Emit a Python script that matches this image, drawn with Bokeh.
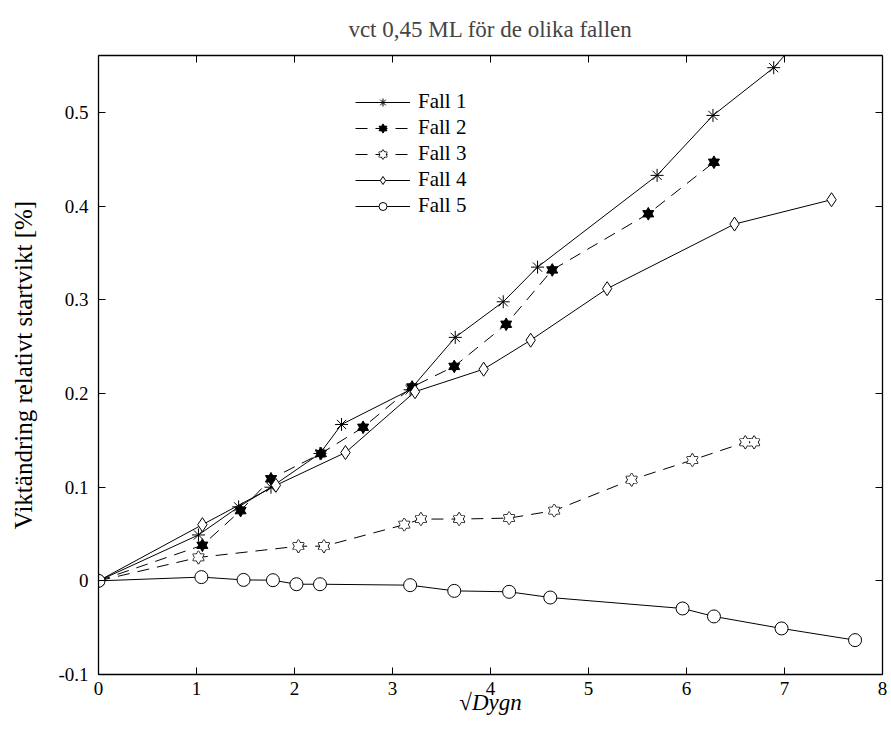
from bokeh.plotting import figure
from bokeh.models import Range1d, FixedTicker, LinearAxis, Legend, LegendItem
from bokeh.embed import file_html
from bokeh.resources import INLINE

FONT = "serif"

title_text = "vct 0,45 ML för de olika fallen"
x_label = "√Dygn"
y_label = "Viktändring relativt startvikt [%]"

x_ticks = [0, 1, 2, 3, 4, 5, 6, 7, 8]
x_tick_labels = ["0", "1", "2", "3", "4", "5", "6", "7", "8"]
y_ticks = [-0.1, 0, 0.1, 0.2, 0.3, 0.4, 0.5]
y_tick_labels = ["-0.1", "0", "0.1", "0.2", "0.3", "0.4", "0.5"]

fall1_x = [0, 1.02, 1.43, 1.76, 2.26, 2.48, 3.18, 3.64, 4.13, 4.48, 5.70, 6.27, 6.89, 7.45]
fall1_y = [0, 0.049, 0.079, 0.100, 0.136, 0.167, 0.204, 0.260, 0.298, 0.335, 0.433, 0.497, 0.548, 0.614]

fall2_x = [0, 1.06, 1.45, 1.76, 2.27, 2.70, 3.20, 3.63, 4.16, 4.63, 5.61, 6.28]
fall2_y = [0, 0.038, 0.075, 0.109, 0.136, 0.164, 0.207, 0.229, 0.274, 0.332, 0.392, 0.447]

fall3_x = [0, 1.02, 2.04, 2.30, 3.12, 3.29, 3.68, 4.19, 4.65, 5.44, 6.06, 6.60, 6.69]
fall3_y = [0, 0.025, 0.037, 0.037, 0.060, 0.066, 0.066, 0.067, 0.075, 0.108, 0.129, 0.148, 0.148]

fall4_x = [0, 1.06, 1.81, 2.52, 3.23, 3.93, 4.41, 5.19, 6.49, 7.48]
fall4_y = [0, 0.060, 0.102, 0.137, 0.202, 0.226, 0.257, 0.312, 0.381, 0.407]

fall5_x = [0, 1.05, 1.48, 1.78, 2.02, 2.26, 3.18, 3.63, 4.19, 4.61, 5.96, 6.28, 6.97, 7.72]
fall5_y = [0, 0.004, 0.001, 0.0007, -0.0036, -0.0036, -0.0046, -0.0107, -0.0117, -0.0178, -0.0295, -0.038, -0.0508, -0.0633]

p = figure(width=891, height=742, output_backend="svg", toolbar_location=None,
           x_range=Range1d(0, 8), y_range=Range1d(-0.1, 0.561),
           min_border_left=98, min_border_right=9, min_border_top=55, min_border_bottom=68,
           title=title_text)
p.outline_line_color = None
p.grid.visible = False
p.background_fill_color = "white"
p.border_fill_color = "white"

p.title.align = "center"
p.title.text_font = FONT
p.title.text_font_size = "23px"
p.title.text_font_style = "normal"
p.title.standoff = 27

def style_axis(ax, ticks, labels, show_labels=True):
    ax.ticker = FixedTicker(ticks=ticks)
    if show_labels:
        ax.major_label_overrides = {t: l for t, l in zip(ticks, labels)}
    else:
        ax.major_label_overrides = {t: "" for t in ticks}
    ax.major_tick_in = 7
    ax.major_tick_out = 0
    ax.minor_tick_line_color = None
    ax.axis_line_width = 1.3
    ax.axis_line_color = "black"
    ax.major_tick_line_color = "black"
    ax.major_label_text_font = FONT
    ax.major_label_text_font_size = "19px"
    ax.major_label_text_color = "black"
    ax.axis_label_text_font = FONT
    ax.axis_label_text_font_size = "20px"
    ax.axis_label_text_font_style = "normal"
    ax.axis_label_text_color = "black"

style_axis(p.xaxis[0], x_ticks, x_tick_labels)
style_axis(p.yaxis[0], y_ticks, y_tick_labels)
p.xaxis[0].axis_label = x_label
p.xaxis[0].axis_label_text_font_style = "italic"
p.xaxis[0].axis_label_text_font_size = "23px"
p.xaxis[0].major_label_standoff = 7
p.xaxis[0].axis_label_standoff = -8
p.yaxis[0].axis_label = y_label
p.yaxis[0].axis_label_text_font_size = "25px"
p.yaxis[0].major_label_standoff = 10
p.yaxis[0].axis_label_standoff = 18

top_ax = LinearAxis()
style_axis(top_ax, x_ticks, x_tick_labels, show_labels=False)
top_ax.major_label_standoff = 0
p.add_layout(top_ax, "above")
right_ax = LinearAxis()
style_axis(right_ax, y_ticks, y_tick_labels, show_labels=False)
right_ax.major_label_standoff = 0
p.add_layout(right_ax, "right")

LW = 1.0
DASH = "12 8"

# Fall 1
l1 = p.line(fall1_x, fall1_y, line_color="black", line_width=LW)
m1 = p.scatter(fall1_x, fall1_y, marker="asterisk", size=13, line_color="black", line_width=1)

# Fall 2 (filled hexagram)
l2 = p.line(fall2_x, fall2_y, line_color="black", line_width=LW, line_dash=DASH)
m2a = p.scatter(fall2_x, fall2_y, marker="triangle", size=11, fill_color="black", line_color="black")
m2b = p.scatter(fall2_x, fall2_y, marker="inverted_triangle", size=11, fill_color="black", line_color="black")

# Fall 3 (open hexagram)
l3 = p.line(fall3_x, fall3_y, line_color="black", line_width=LW, line_dash=DASH)
m3a = p.scatter(fall3_x, fall3_y, marker="triangle", size=11, fill_color=None, line_color="black", line_width=1.4)
m3b = p.scatter(fall3_x, fall3_y, marker="inverted_triangle", size=11, fill_color=None, line_color="black", line_width=1.4)
m3c = p.scatter(fall3_x, fall3_y, marker="triangle", size=11, fill_color="white", line_color=None)
m3d = p.scatter(fall3_x, fall3_y, marker="inverted_triangle", size=11, fill_color="white", line_color=None)

# Fall 4
l4 = p.line(fall4_x, fall4_y, line_color="black", line_width=LW)
m4 = p.scatter(fall4_x, fall4_y, marker="diamond", size=14, fill_color="white", line_color="black", line_width=1)

# Fall 5
l5 = p.line(fall5_x, fall5_y, line_color="black", line_width=LW)
m5 = p.scatter(fall5_x, fall5_y, marker="circle", size=13, fill_color="white", line_color="black", line_width=1)

legend = Legend(items=[
    LegendItem(label="Fall 1", renderers=[l1, m1]),
    LegendItem(label="Fall 2", renderers=[l2, m2a, m2b]),
    LegendItem(label="Fall 3", renderers=[l3, m3a, m3b, m3c, m3d]),
    LegendItem(label="Fall 4", renderers=[l4, m4]),
    LegendItem(label="Fall 5", renderers=[l5, m5]),
], location=(257, 456))
legend.border_line_alpha = 0
legend.background_fill_alpha = 0
legend.padding = 0
legend.margin = 0
legend.glyph_width = 55
legend.glyph_height = 20
legend.label_height = 20
legend.spacing = 1
legend.label_standoff = 8
legend.label_text_font = FONT
legend.label_text_font_size = "21px"
legend.label_text_color = "black"
p.add_layout(legend, "center")

open("out.html", "w").write(file_html(p, INLINE))
